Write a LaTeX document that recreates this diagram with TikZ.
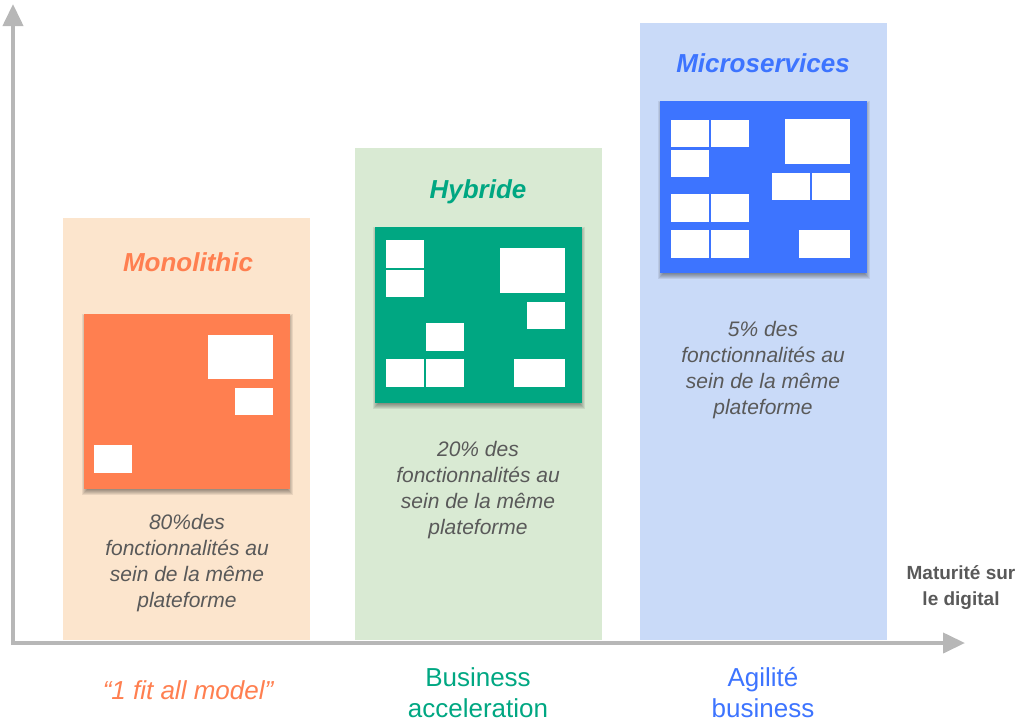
\documentclass[tikz,border=0pt]{standalone}
\usepackage{fontspec}
\setmainfont{Liberation Sans}
\usetikzlibrary{arrows.meta}
\definecolor{axisgray}{HTML}{B7B7B7}
\definecolor{monobg}{HTML}{FCE5CD}
\definecolor{monofg}{HTML}{FF7F50}
\definecolor{hybbg}{HTML}{D9EAD3}
\definecolor{hybfg}{HTML}{00A782}
\definecolor{micbg}{HTML}{C9DAF8}
\definecolor{micfg}{HTML}{3D74FF}
\definecolor{desc}{HTML}{595959}
\newcommand\mycardshadow[4]{%
  \foreach \k in {0,...,5}{%
    \fill[black, opacity=0.075] ({#1+\k-2},{#2+\k}) rectangle ({#3-\k+3},{#4+6-\k});
  }}
\begin{document}
\begin{tikzpicture}[x=1pt,y=-1pt,
  slot/.style={fill=white, draw=none},
  title/.style={font=\fontsize{26}{30}\selectfont\bfseries\itshape},
  desctext/.style={align=center, text=desc, font=\fontsize{21}{26}\selectfont\itshape},
  bottom/.style={align=center, font=\fontsize{26}{31}\selectfont},
  axis/.style={draw=axisgray, line width=4pt, -{Triangle[width=20pt,length=22pt]}}]
\useasboundingbox (0,0) rectangle (1024,723);
% panels
\fill[monobg] (63,218) rectangle (310,640);
\fill[hybbg] (355,148) rectangle (602,640);
\fill[micbg] (640,23) rectangle (887,640);
% axes
\coordinate (Ybase) at (13,645);
\coordinate (Ytip) at (13,4);
\coordinate (Xbase) at (11,643);
\coordinate (Xtip) at (965,643);
\draw[axis] (Ybase) -- (Ytip);
\draw[axis] (Xbase) -- (Xtip);
% monolithic
\node[title, text=monofg] (tmono) at (188,262) {Monolithic};
\mycardshadow{84}{314}{290}{489}
\fill[monofg] (84,314) rectangle (290,489);
\fill[slot] (208,335) rectangle (273,379);
\fill[slot] (235,388) rectangle (273,415);
\fill[slot] (94,445) rectangle (132,473);
\node[desctext] (dmono) at (187,563) {80\%des\\fonctionnalités au\\sein de la même\\plateforme};
\node[bottom, text=monofg, font=\fontsize{26}{31}\selectfont\itshape] (bmono) at (188,690) {“1 fit all model”};
% hybride
\node[title, text=hybfg] (thyb) at (478,192) {Hybride};
\mycardshadow{375}{227}{582}{403}
\fill[hybfg] (375,227) rectangle (582,403);
\fill[slot] (386,240) rectangle (424,268);
\fill[slot] (386,270) rectangle (424,297);
\fill[slot] (500,248) rectangle (565,293);
\fill[slot] (527,302) rectangle (565,329);
\fill[slot] (426,323) rectangle (464,351);
\fill[slot] (386,359) rectangle (424,387);
\fill[slot] (426,359) rectangle (464,387);
\fill[slot] (514,359) rectangle (565,387);
\node[desctext] (dhyb) at (478,490) {20\% des\\fonctionnalités au\\sein de la même\\plateforme};
\node[bottom, text=hybfg] (bhyb) at (478,693) {Business\\acceleration};
% microservices
\node[title, text=micfg] (tmic) at (763,63) {Microservices};
\mycardshadow{660}{101}{867}{273}
\fill[micfg] (660,101) rectangle (867,273);
\fill[slot] (671,120) rectangle (709,147);
\fill[slot] (711,120) rectangle (749,147);
\fill[slot] (671,150) rectangle (709,177);
\fill[slot] (785,119) rectangle (850,164);
\fill[slot] (772,173) rectangle (810,200);
\fill[slot] (812,173) rectangle (850,200);
\fill[slot] (671,194) rectangle (709,222);
\fill[slot] (711,194) rectangle (749,222);
\fill[slot] (671,230) rectangle (709,258);
\fill[slot] (711,230) rectangle (749,258);
\fill[slot] (799,230) rectangle (850,258);
\node[desctext] (dmic) at (763,370) {5\% des\\fonctionnalités au\\sein de la même\\plateforme};
\node[bottom, text=micfg] (bmic) at (763,693) {Agilité\\business};
% axis label
\node[align=center, text=desc, font=\fontsize{19}{26}\selectfont\bfseries] (xlab) at (961,588) {Maturité sur\\le digital};
\end{tikzpicture}
\end{document}
